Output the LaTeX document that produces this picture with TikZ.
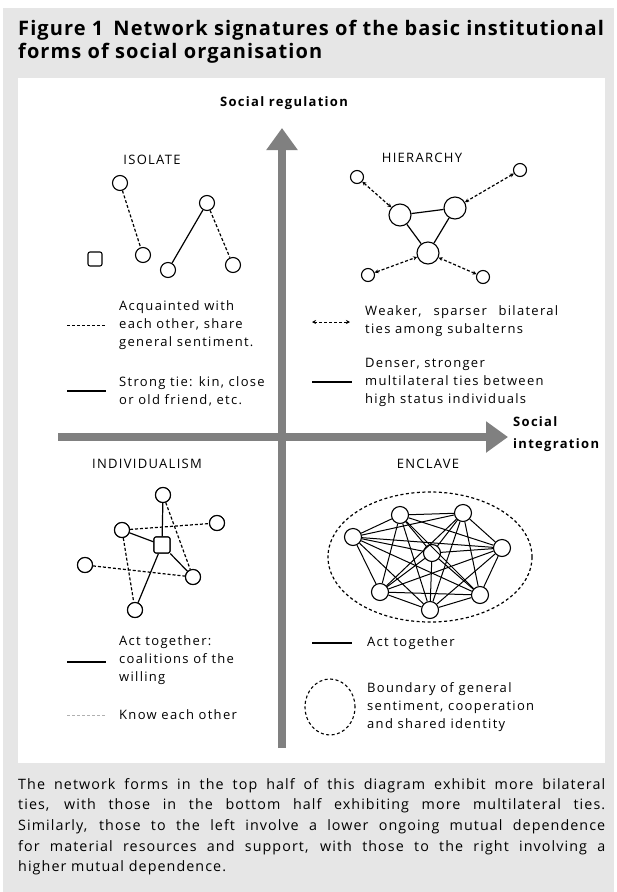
\documentclass[tikz,border=0pt]{standalone}
\usepackage{fontspec}
\setmainfont{Open Sans}
\newfontfamily\lblfont[LetterSpace=10]{Open Sans}
\newfontfamily\capfont[LetterSpace=7.5]{Open Sans}
\newfontfamily\titfont[LetterSpace=5.5]{Open Sans}
\usetikzlibrary{arrows.meta,shapes.geometric}
\definecolor{bggray}{HTML}{E6E6E6}
\definecolor{axisgray}{HTML}{808080}
\definecolor{lightdash}{HTML}{B0B0B0}
\tikzset{
  nd/.style={circle, draw, line width=1.1pt, fill=white, minimum size=15pt, inner sep=0pt},
  bignd/.style={nd, minimum size=22pt},
  sqnd/.style={rectangle, rounded corners=2pt, draw, line width=1.1pt, fill=white, minimum size=14pt, inner sep=0pt},
  tie/.style={line width=1.2pt},
  weak/.style={line width=1.2pt, dash pattern=on 3pt off 2pt},
  weakarrow/.style={weak, {Stealth[length=4pt,width=4pt]}-{Stealth[length=4pt,width=4pt]}},
  lbl/.style={font=\lblfont\fontsize{13}{18}\selectfont, align=left, anchor=west, inner sep=0pt},
  quadtitle/.style={font=\lblfont\fontsize{13}{15}\selectfont, inner sep=0pt},
  axislbl/.style={font=\lblfont\bfseries\fontsize{13}{22}\selectfont, inner sep=0pt},
  axisline/.style={line width=8pt, draw=axisgray, -{Triangle[width=30pt,length=22pt]}},
  captionline/.style={font=\capfont\fontsize{14.3}{20}\selectfont, anchor=west, inner sep=0pt},
  titleline/.style={font=\titfont\bfseries\fontsize{20}{23}\selectfont, anchor=west, inner sep=0pt}
}
\begin{document}
\begin{tikzpicture}[x=1pt,y=-1pt]
\useasboundingbox (0,0) rectangle (617,892);
\fill[bggray] (3,8) rectangle (614,892);
\fill[white] (18,78) rectangle (605,763);

% title
\node[titleline] (t1) at (18,30) {Figure 1\hspace{10pt}Network signatures of the basic institutional};
\node[titleline] (t2) at (18,53) {forms of social organisation};

% axes
\coordinate (vb) at (282,748);
\coordinate (vt) at (282,128);
\coordinate (hl) at (58,437);
\coordinate (hr) at (508,437);
\draw[axisline] (vb) -- (vt);
\draw[axisline] (hl) -- (hr);
\node[axislbl] (yl) at (284,103) {Social regulation};
\node[axislbl, align=left, anchor=west] (xl) at (513,434) {Social\\integration};

% ISOLATE
\node[quadtitle] (isoT) at (152,160) {ISOLATE};
\node[nd] (iA) at (120,183) {};
\node[nd] (iB) at (143,255) {};
\node[sqnd] (iC) at (95,259) {};
\node[nd] (iD) at (168,270) {};
\node[nd] (iE) at (207,203) {};
\node[nd] (iF) at (233,265) {};
\draw[weak] (iA) -- (iB);
\draw[tie] (iD) -- (iE);
\draw[weak] (iE) -- (iF);
\coordinate (il1a) at (67,325); \coordinate (il1b) at (106,325);
\draw[line width=0.8pt, dash pattern=on 3pt off 2pt] (il1a) -- (il1b);
\node[lbl] (il1) at (119,325) {Acquainted with\\each other, share\\general sentiment.};
\coordinate (il2a) at (67,391); \coordinate (il2b) at (106,391);
\draw[tie] (il2a) -- (il2b);
\node[lbl] (il2) at (119,391) {Strong tie: kin, close\\or old friend, etc.};

% HIERARCHY
\node[quadtitle] (hieT) at (422,158) {HIERARCHY};
\node[bignd] (h1) at (400,215) {};
\node[bignd] (h2) at (455,208) {};
\node[bignd] (h3) at (428,253) {};
\node[nd, minimum size=13pt] (s1) at (357,177) {};
\node[nd, minimum size=13pt] (s2) at (520,170) {};
\node[nd, minimum size=13pt] (s3) at (368,275) {};
\node[nd, minimum size=13pt] (s4) at (483,277) {};
\draw[tie] (h1) -- (h2);
\draw[tie] (h1) -- (h3);
\draw[tie] (h2) -- (h3);
\draw[weakarrow] (s1) -- (h1);
\draw[weakarrow] (s2) -- (h2);
\draw[weakarrow] (s3) -- (h3);
\draw[weakarrow] (s4) -- (h3);
\coordinate (hl1a) at (312,322); \coordinate (hl1b) at (350,322);
\draw[weakarrow, line width=0.9pt] (hl1a) -- (hl1b);
\node[lbl] (hl1) at (365,321) {\makebox[193pt][s]{Weaker, \ sparser \ bilateral}\\ties among subalterns};
\coordinate (hl2a) at (312,382); \coordinate (hl2b) at (352,382);
\draw[tie] (hl2a) -- (hl2b);
\node[lbl] (hl2) at (365,382) {Denser, stronger\\multilateral ties between\\high status individuals};

% INDIVIDUALISM
\node[quadtitle] (indT) at (147,464) {INDIVIDUALISM};
\node[nd] (n1) at (163,495) {};
\node[nd] (n2) at (217,523) {};
\node[nd] (n3) at (122,530) {};
\node[sqnd, minimum size=16pt] (n4) at (162,545) {};
\node[nd] (n5) at (85,565) {};
\node[nd] (n6) at (193,577) {};
\node[nd] (n7) at (135,610) {};
\draw[weak] (n3) -- (n2);
\draw[weak] (n1) -- (n6);
\draw[weak] (n5) -- (n6);
\draw[weak] (n3) -- (n7);
\draw[tie] (n1) -- (n4);
\draw[tie] (n3) -- (n4);
\draw[tie] (n4) -- (n6);
\draw[tie] (n4) -- (n7);
\node[nd] at (n1) {};
\node[nd] at (n2) {};
\node[nd] at (n3) {};
\node[sqnd, minimum size=16pt] at (n4) {};
\node[nd] at (n5) {};
\node[nd] at (n6) {};
\node[nd] at (n7) {};
\coordinate (nl1a) at (67,662); \coordinate (nl1b) at (106,662);
\draw[tie] (nl1a) -- (nl1b);
\node[lbl] (nl1) at (119,660) {Act together:\\coalitions of the\\willing};
\coordinate (nl2a) at (67,715); \coordinate (nl2b) at (106,715);
\draw[line width=0.8pt, draw=lightdash, dash pattern=on 3pt off 2pt] (nl2a) -- (nl2b);
\node[lbl] (nl2) at (119,715) {Know each other};

% ENCLAVE
\node[quadtitle] (encT) at (428,464) {ENCLAVE};
\node[draw, ellipse, minimum width=204pt, minimum height=130pt, line width=1.2pt, dash pattern=on 3pt off 2.5pt, inner sep=0pt] (bound) at (430,557) {};
\foreach \n/\x/\y in {1/400/515, 2/463/513, 3/353/537, 4/502/548, 5/380/592, 6/480/595, 7/430/610, 8/432/553}
  \node[nd, minimum size=17pt] (e\n) at (\x,\y) {};
\foreach \a in {1,...,8}
  \foreach \b in {1,...,8}
    {\ifnum\a<\b \draw[tie, line width=1pt] (e\a) -- (e\b); \fi}
\coordinate (el1a) at (312,643); \coordinate (el1b) at (352,643);
\draw[tie] (el1a) -- (el1b);
\node[lbl] (el1) at (367,643) {Act together};
\node[draw, ellipse, minimum width=50pt, minimum height=56pt, line width=1.1pt, dash pattern=on 3pt off 2.5pt, inner sep=0pt] (el2sym) at (330,707) {};
\node[lbl] (el2) at (367,707) {Boundary of general\\sentiment, cooperation\\and shared identity};

% caption
\node[captionline] (c1) at (18,786) {\makebox[587pt][s]{The network forms in the top half of this diagram exhibit more bilateral}};
\node[captionline] (c2) at (18,806) {\makebox[587pt][s]{ties, with those in the bottom half exhibiting more multilateral ties.}};
\node[captionline] (c3) at (18,827) {\makebox[587pt][s]{Similarly, those to the left involve a lower ongoing mutual dependence}};
\node[captionline] (c4) at (18,848) {\makebox[587pt][s]{for material resources and support, with those to the right involving a}};
\node[captionline] (c5) at (18,868) {higher mutual dependence.};
\end{tikzpicture}
\end{document}
